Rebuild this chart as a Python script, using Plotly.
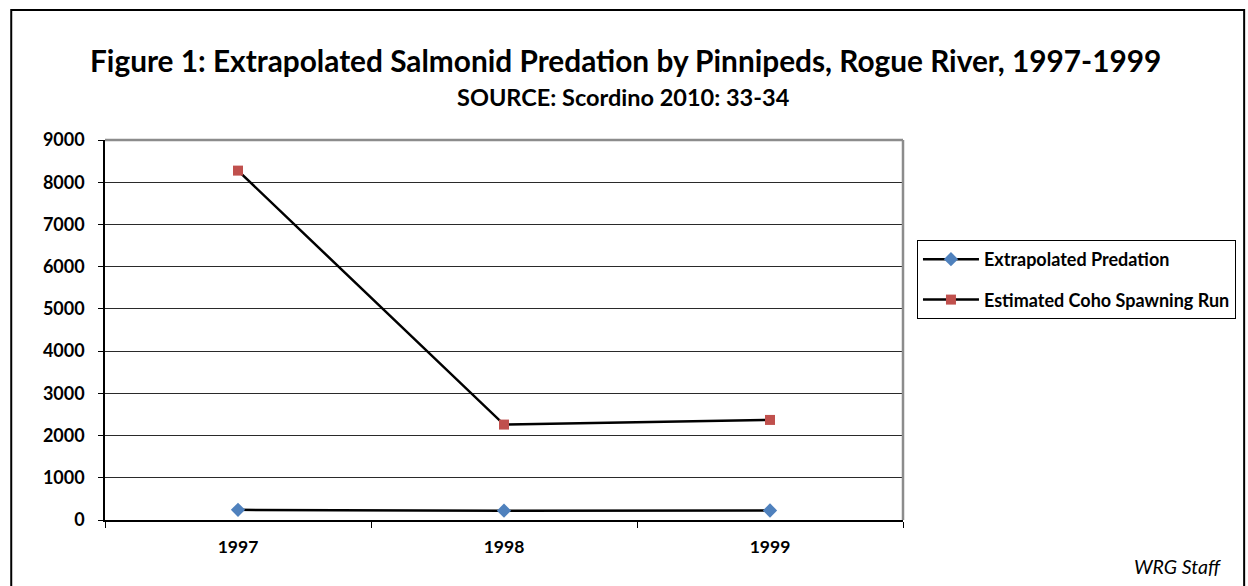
import plotly.graph_objects as go

years = ["1997", "1998", "1999"]
predation = [240, 220, 225]
coho_run = [8275, 2260, 2370]
y_ticks = [0, 1000, 2000, 3000, 4000, 5000, 6000, 7000, 8000, 9000]

FONT = "Lato"

fig = go.Figure()
fig.add_trace(go.Scatter(
    x=years, y=predation, mode="lines+markers", name="<b>Extrapolated Predation</b>",
    line=dict(color="black", width=2.5),
    marker=dict(symbol="diamond", size=11, color="#4F81BD"),
    legendgroup="a",
))
fig.add_trace(go.Scatter(
    x=years, y=coho_run, mode="lines+markers", name="<b>Estimated Coho Spawning Run</b>",
    line=dict(color="black", width=2.5),
    marker=dict(symbol="square", size=10, color="#C0504D"),
    legendgroup="b",
))

L, R, T, B = 105, 343, 140, 66
W, H = 1248, 586
pw, ph = W - L - R, H - T - B

def px(xp):
    return (xp - L) / pw

def py(yp):
    return (H - B - yp) / ph

fig.update_layout(
    width=W, height=H,
    margin=dict(l=L, r=R, t=T, b=B),
    paper_bgcolor="white", plot_bgcolor="white",
    font=dict(family=FONT, color="black", size=18),
    showlegend=True,
    legend=dict(
        x=px(919), y=py(240), xanchor="left", yanchor="top",
        bordercolor="black", borderwidth=1,
        font=dict(family=FONT, size=18, color="black"),
        traceorder="grouped", tracegroupgap=14,
        itemwidth=56,
        bgcolor="white",
    ),
    xaxis=dict(
        type="category", showgrid=False, showline=True, linecolor="black", linewidth=1.5,
        ticks="outside", tickson="boundaries", ticklen=6, tickcolor="black",
        tickfont=dict(family=FONT, size=17.5, color="black"),
        tickvals=years, ticktext=["<b>%s</b>" % y for y in years],
        ticklabelstandoff=10,
        range=[-0.5, 2.5], fixedrange=True,
    ),
    yaxis=dict(
        range=[0, 9000], tickvals=y_ticks, ticktext=["<b>%d</b>" % v for v in y_ticks],
        showgrid=True, gridcolor="#2a2a2a", gridwidth=1,
        showline=True, linecolor="black", linewidth=1.5,
        ticks="outside", ticklen=5, tickcolor="black",
        tickfont=dict(family=FONT, size=18, color="black"),
        ticklabelstandoff=10,
        zeroline=False,
    ),
    shapes=[
        dict(type="rect", xref="paper", yref="paper",
             x0=px(11), x1=px(1247), y0=py(10), y1=py(600),
             line=dict(color="black", width=2)),
        dict(type="line", xref="paper", yref="paper",
             x0=1, x1=1, y0=0, y1=1, line=dict(color="#8c8c8c", width=2.5)),
        dict(type="line", xref="paper", yref="paper",
             x0=0, x1=1, y0=1, y1=1, line=dict(color="#8c8c8c", width=2.5)),
    ],
    annotations=[
        dict(text="<b>Figure 1: Extrapolated Salmonid Predation by Pinnipeds, Rogue River, 1997-1999</b>",
             xref="paper", yref="paper", x=px(627), y=py(60), xanchor="center", yanchor="middle",
             showarrow=False, font=dict(family=FONT, size=29.8, color="black")),
        dict(text="<b>SOURCE: Scordino 2010: 33-34</b>",
             xref="paper", yref="paper", x=px(625), y=py(97), xanchor="center", yanchor="middle",
             showarrow=False, font=dict(family=FONT, size=23.5, color="black")),
        dict(text="<i>WRG Staff</i>",
             xref="paper", yref="paper", x=px(1226), y=py(566), xanchor="right", yanchor="middle",
             showarrow=False, font=dict(family=FONT, size=19.5, color="black")),
    ],
)

fig.write_html("out.html", config={"displayModeBar": False},
               post_script="document.body.style.margin='0';")
